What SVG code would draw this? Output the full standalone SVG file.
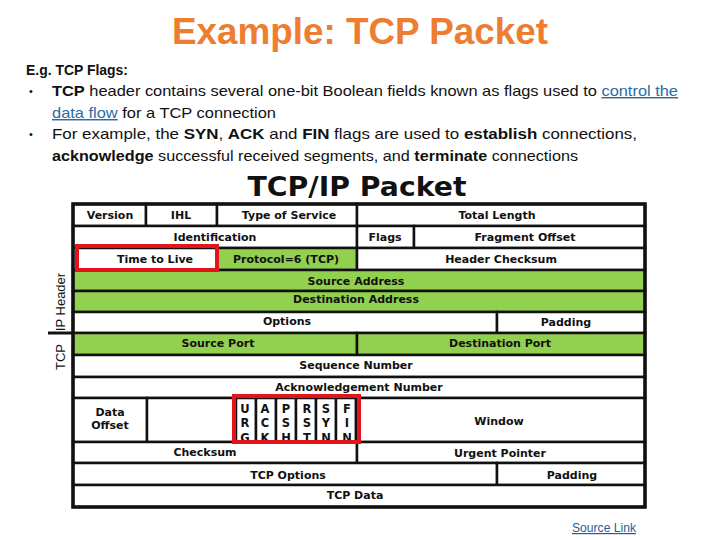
<svg xmlns="http://www.w3.org/2000/svg" width="720" height="540" viewBox="0 0 720 540">
<defs>
<style>
.w{fill:#fff;stroke:#111;stroke-width:2.5}
.g{fill:#92D050;stroke:#111;stroke-width:2.5}
.t{font-family:"DejaVu Sans",Verdana,sans-serif;font-weight:bold;font-size:11px;fill:#111;text-anchor:middle}
.f{font-family:"DejaVu Sans",Verdana,sans-serif;font-weight:bold;font-size:11.5px;fill:#111;text-anchor:middle}
.body{font-family:"Liberation Sans",Arial,sans-serif;font-size:14.5px;fill:#111}
.b{font-weight:bold}
.lnk{fill:#2B6CA3;text-decoration:underline}
.red{fill:none;stroke:#E3141B;stroke-width:4}
.side{font-family:"Liberation Sans",Arial,sans-serif;font-size:13px;fill:#111;text-anchor:middle}
</style>
<clipPath id="flagclip"><rect x="236" y="398" width="121" height="42"/></clipPath>
</defs>
<rect width="720" height="540" fill="#fff"/>
<text x="360" y="44" font-family="Liberation Sans,Arial,sans-serif" font-weight="bold" font-size="37" fill="#ED7D31" text-anchor="middle" textLength="376" lengthAdjust="spacingAndGlyphs">Example: TCP Packet</text>
<g id="intro" class="body">
<text x="26" y="75" class="b" textLength="102" lengthAdjust="spacingAndGlyphs">E.g. TCP Flags:</text>
<text x="29" y="95" font-size="11">•</text>
<text x="52" y="96" textLength="626" lengthAdjust="spacingAndGlyphs"><tspan class="b">TCP</tspan> header contains several one-bit Boolean fields known as flags used to <tspan class="lnk">control the</tspan></text>
<text x="52" y="118" textLength="224" lengthAdjust="spacingAndGlyphs"><tspan class="lnk">data flow</tspan> for a TCP connection</text>
<text x="29" y="138" font-size="11">•</text>
<text x="52" y="139" textLength="585" lengthAdjust="spacingAndGlyphs">For example, the <tspan class="b">SYN</tspan>, <tspan class="b">ACK</tspan> and <tspan class="b">FIN</tspan> flags are used to <tspan class="b">establish</tspan> connections,</text>
<text x="52" y="161" textLength="526" lengthAdjust="spacingAndGlyphs"><tspan class="b">acknowledge</tspan> successful received segments, and <tspan class="b">terminate</tspan> connections</text>
</g>
<text x="357" y="196" font-family="DejaVu Sans,Verdana,sans-serif" font-weight="bold" font-size="26" fill="#111" text-anchor="middle" textLength="219" lengthAdjust="spacingAndGlyphs">TCP/IP Packet</text>
<g id="version"><rect class="w" x="73" y="204" width="73" height="22"/><text class="t" x="110" y="219">Version</text></g>
<g id="ihl"><rect class="w" x="146" y="204" width="71" height="22"/><text class="t" x="181" y="219">IHL</text></g>
<g id="tos"><rect class="w" x="217" y="204" width="140" height="22"/><text class="t" x="289" y="219">Type of Service</text></g>
<g id="totlen"><rect class="w" x="357" y="204" width="288" height="22"/><text class="t" x="497" y="219">Total Length</text></g>
<g id="ident"><rect class="w" x="73" y="226" width="284" height="22"/><text class="t" x="215" y="241">Identification</text></g>
<g id="flags"><rect class="w" x="357" y="226" width="57" height="22"/><text class="t" x="385" y="241">Flags</text></g>
<g id="fragoff"><rect class="w" x="414" y="226" width="231" height="22"/><text class="t" x="525" y="241">Fragment Offset</text></g>
<g id="ttl"><rect class="w" x="73" y="248" width="144" height="22"/><text class="t" x="155" y="263">Time to Live</text></g>
<g id="proto"><rect class="g" x="217" y="248" width="140" height="22"/><text class="t" x="286" y="263">Protocol=6 (TCP)</text></g>
<g id="hchk"><rect class="w" x="357" y="248" width="288" height="22"/><text class="t" x="501" y="263">Header Checksum</text></g>
<g id="srcaddr"><rect class="g" x="73" y="270" width="572" height="21"/><text class="t" x="356" y="285">Source Address</text></g>
<g id="dstaddr"><rect class="g" x="73" y="291" width="572" height="21"/><text class="t" x="356" y="303">Destination Address</text></g>
<g id="options"><rect class="w" x="73" y="312" width="424" height="21"/><text class="t" x="287" y="325">Options</text></g>
<g id="ippad"><rect class="w" x="497" y="312" width="148" height="21"/><text class="t" x="566" y="326">Padding</text></g>
<g id="srcport"><rect class="g" x="73" y="333" width="284" height="22"/><text class="t" x="218" y="347">Source Port</text></g>
<g id="dstport"><rect class="g" x="357" y="333" width="288" height="22"/><text class="t" x="500" y="347">Destination Port</text></g>
<g id="seq"><rect class="w" x="73" y="355" width="572" height="22"/><text class="t" x="356" y="369">Sequence Number</text></g>
<g id="ack"><rect class="w" x="73" y="377" width="572" height="21"/><text class="t" x="359" y="391">Acknowledgement Number</text></g>
<g id="dataoff"><rect class="w" x="73" y="398" width="74" height="44"/><text class="t" x="110" y="416">Data</text><text class="t" x="110" y="429">Offset</text></g>
<g id="reserved"><rect class="w" x="147" y="398" width="89" height="44"/></g>
<g id="flagbits">
<rect class="w" x="236" y="398" width="20" height="44"/><rect class="w" x="256" y="398" width="20" height="44"/><rect class="w" x="276" y="398" width="20" height="44"/><rect class="w" x="296" y="398" width="20" height="44"/><rect class="w" x="316" y="398" width="20" height="44"/><rect class="w" x="336" y="398" width="20" height="44"/>
<g clip-path="url(#flagclip)">
<text class="f" x="245" y="413">U</text><text class="f" x="245" y="427">R</text><text class="f" x="245" y="442">G</text>
<text class="f" x="265" y="413">A</text><text class="f" x="265" y="427">C</text><text class="f" x="265" y="442">K</text>
<text class="f" x="286" y="413">P</text><text class="f" x="286" y="427">S</text><text class="f" x="286" y="442">H</text>
<text class="f" x="307" y="413">R</text><text class="f" x="307" y="427">S</text><text class="f" x="307" y="442">T</text>
<text class="f" x="326" y="413">S</text><text class="f" x="326" y="427">Y</text><text class="f" x="326" y="442">N</text>
<text class="f" x="347" y="413">F</text><text class="f" x="347" y="427">I</text><text class="f" x="347" y="442">N</text>
</g>
<line x1="236" y1="442" x2="356" y2="442" stroke="#111" stroke-width="2.5"/>
</g>
<g id="window"><rect class="w" x="356" y="398" width="289" height="44"/><text class="t" x="499" y="425">Window</text></g>
<g id="checksum"><rect class="w" x="73" y="442" width="284" height="21"/><text class="t" x="205" y="456">Checksum</text></g>
<g id="urgptr"><rect class="w" x="357" y="442" width="288" height="21"/><text class="t" x="500" y="457">Urgent Pointer</text></g>
<g id="tcpopt"><rect class="w" x="73" y="463" width="424" height="22"/><text class="t" x="288" y="479">TCP Options</text></g>
<g id="tcppad"><rect class="w" x="497" y="463" width="148" height="22"/><text class="t" x="572" y="479">Padding</text></g>
<g id="tcpdata"><rect class="w" x="73" y="485" width="572" height="22"/><text class="t" x="355" y="499">TCP Data</text></g>
<rect x="73" y="204" width="572" height="303" fill="none" stroke="#111" stroke-width="3.5"/>
<g id="highlights">
<rect class="red" x="77" y="246" width="140" height="24"/>
<rect class="red" x="234" y="396" width="125" height="46"/>
</g>
<g id="connectors">
<line x1="48" y1="333" x2="73" y2="333" stroke="#111" stroke-width="3"/>
</g>
<g id="sidelabels">
<text class="side" transform="translate(65 302) rotate(-90)">IP Header</text>
<text class="side" transform="translate(65 357) rotate(-90)">TCP</text>
</g>
<text x="572" y="532" font-family="Liberation Sans,Arial,sans-serif" font-size="12" fill="#1F5C99" text-decoration="underline" textLength="64" lengthAdjust="spacingAndGlyphs">Source Link</text>
</svg>
